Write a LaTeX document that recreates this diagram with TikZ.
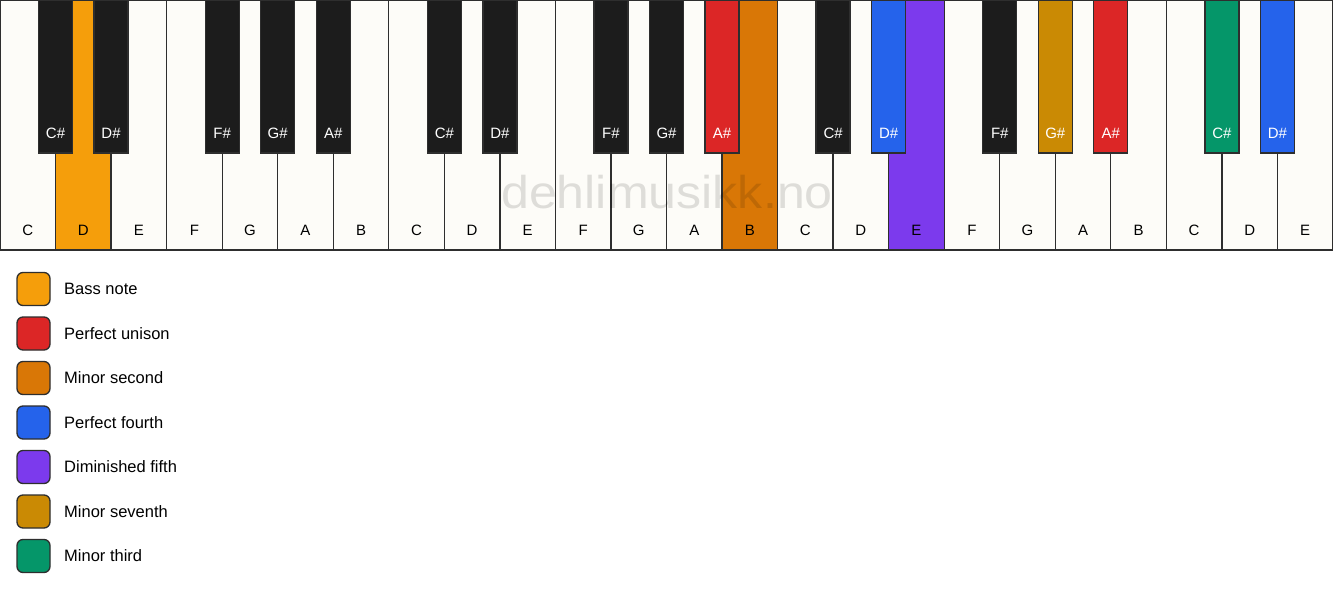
\documentclass[tikz,border=0pt]{standalone}
\usepackage{fontspec}
\setmainfont{Liberation Sans}
\definecolor{wk}{HTML}{FDFCF8}
\definecolor{bk}{HTML}{1C1C1C}
\definecolor{edge}{HTML}{2E2E2E}
\definecolor{bass}{HTML}{F59E0B}
\definecolor{unison}{HTML}{DC2626}
\definecolor{minsec}{HTML}{D97706}
\definecolor{pfourth}{HTML}{2563EB}
\definecolor{dimfifth}{HTML}{7C3AED}
\definecolor{minsev}{HTML}{CA8A04}
\definecolor{minthird}{HTML}{059669}
\tikzset{
  whitekey/.style={draw=edge, line width=1.3pt, minimum width=55.5417pt, minimum height=250pt, inner sep=0pt, outer sep=0pt},
  blackkey/.style={draw=edge, line width=1.3pt, minimum width=34pt, minimum height=153pt, inner sep=0pt, outer sep=0pt},
  wlabel/.style={text=black, font=\fontsize{15}{18}\selectfont, inner sep=0pt},
  blabel/.style={text=white, font=\fontsize{15}{18}\selectfont, inner sep=0pt},
  legendbox/.style={draw=edge, line width=1.3pt, rounded corners=6pt, minimum width=33pt, minimum height=33pt, inner sep=0pt},
  legendtext/.style={anchor=west, text=black, font=\fontsize{16.5}{19}\selectfont, inner sep=0pt},
  watermark/.style={text=black, opacity=0.12, font=\fontsize{46}{52}\selectfont, inner sep=0pt, anchor=base}
}
\begin{document}
\begin{tikzpicture}[x=1pt,y=-1pt]
\useasboundingbox (0,0) rectangle (1333,594);
\fill[white] (0,0) rectangle (1333,594);
% white keys
\foreach \i/\n/\c in {0/C/wk,1/D/bass,2/E/wk,3/F/wk,4/G/wk,5/A/wk,6/B/wk,
  7/C/wk,8/D/wk,9/E/wk,10/F/wk,11/G/wk,12/A/wk,13/B/minsec,
  14/C/wk,15/D/wk,16/E/dimfifth,17/F/wk,18/G/wk,19/A/wk,20/B/wk,
  21/C/wk,22/D/wk,23/E/wk}{
  \node[whitekey, fill=\c] (w\i) at ({(\i+0.5)*55.5417},125) {};
  \node[wlabel] (wl\i) at ({(\i+0.5)*55.5417},230) {\n};
}
% black keys
\foreach \i/\n/\c in {1/C\#/bk,2/D\#/bk,4/F\#/bk,5/G\#/bk,6/A\#/bk,
  8/C\#/bk,9/D\#/bk,11/F\#/bk,12/G\#/bk,13/A\#/unison,
  15/C\#/bk,16/D\#/pfourth,18/F\#/bk,19/G\#/minsev,20/A\#/unison,
  22/C\#/minthird,23/D\#/pfourth}{
  \node[blackkey, fill=\c] (b\i) at ({\i*55.5417},76.5) {};
  \node[blabel] (bl\i) at ({\i*55.5417},133) {\n};
}
% watermark
\node[watermark] (wm) at (667,208) {\scalebox{1.09}[1]{dehlimusikk.no}};
% legend
\foreach \i/\c/\t in {0/bass/Bass note,1/unison/Perfect unison,2/minsec/Minor second,
  3/pfourth/Perfect fourth,4/dimfifth/Diminished fifth,5/minsev/Minor seventh,6/minthird/Minor third}{
  \node[legendbox, fill=\c] (lg\i) at (33.5,{289+44.5*\i}) {};
  \node[legendtext] (lt\i) at (64,{289+44.5*\i}) {\t};
}
\end{tikzpicture}
\end{document}
